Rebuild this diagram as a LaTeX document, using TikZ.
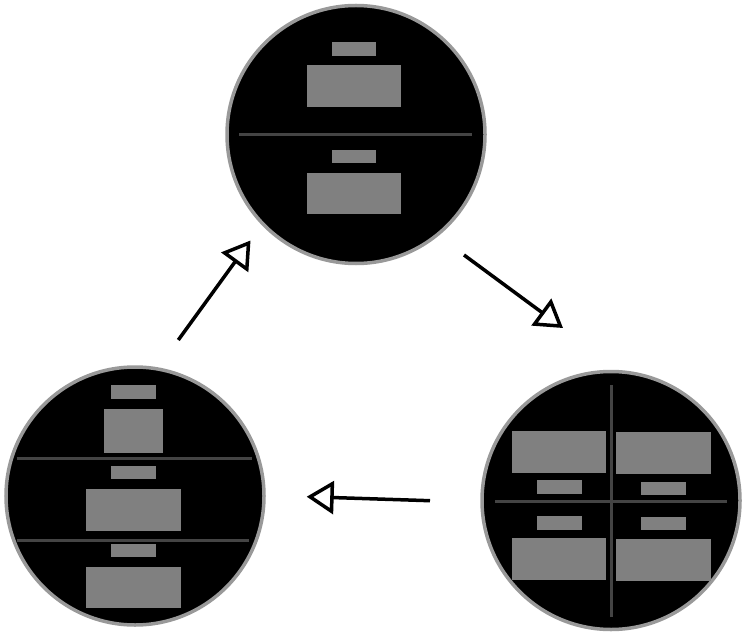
\documentclass[tikz,border=0pt]{standalone}
\usetikzlibrary{arrows.meta}
\definecolor{blockgray}{HTML}{808080}
\definecolor{divgray}{HTML}{444444}
\definecolor{rimgray}{HTML}{999999}
\begin{document}
\begin{tikzpicture}[x=1pt,y=-1pt,
  disc/.style={circle, fill=black, draw=rimgray, line width=3.5pt, minimum size=258pt, inner sep=0pt},
  blk/.style={fill=blockgray},
  divider/.style={draw=divgray, line width=3pt},
  flow/.style={line width=3.5pt, -{Triangle[open, length=27pt, width=33pt, line join=miter]}}]
\useasboundingbox (0,0) rectangle (746,636);
% circles
\node[disc] (top) at (356,134.5) {};
\node[disc] (left) at (135,496) {};
\node[disc] (right) at (611,500.5) {};
% top circle content
\fill[blk] (331.7,42.3) rectangle (376.3,55.7);
\fill[blk] (306.7,65.3) rectangle (401.3,107.3);
\draw[divider] (239.3,135) -- (471.7,135);
\fill[blk] (331.7,150) rectangle (376.3,163.3);
\fill[blk] (306.7,172.7) rectangle (401.3,214.3);
% left circle content
\fill[blk] (111,385) rectangle (155.7,398.7);
\fill[blk] (104,409) rectangle (162.7,452.7);
\draw[divider] (16.7,458.7) -- (251.7,458.7);
\fill[blk] (111,466) rectangle (155.7,479.3);
\fill[blk] (86,489) rectangle (180.7,530.7);
\draw[divider] (16.7,540) -- (249,540);
\fill[blk] (111,543.7) rectangle (155.7,556.7);
\fill[blk] (86,566.7) rectangle (180.7,608.3);
% right circle content
\draw[divider] (611,385.3) -- (611,616.7);
\draw[divider] (495.3,501.3) -- (727,501.3);
\fill[blk] (512,431) rectangle (606.3,473);
\fill[blk] (616.3,432) rectangle (711,474);
\fill[blk] (536.7,480.3) rectangle (581.7,493.7);
\fill[blk] (641.3,481.7) rectangle (686,495);
\fill[blk] (536.7,516) rectangle (581.7,529.7);
\fill[blk] (641.3,517) rectangle (686,530.3);
\fill[blk] (512,538.3) rectangle (606.3,580.3);
\fill[blk] (616.3,539.3) rectangle (711,581.3);
% arrows
\coordinate (a1s) at (178.3,340);
\coordinate (a1e) at (250.5,240.5);
\coordinate (a2s) at (464,255);
\coordinate (a2e) at (563,328);
\coordinate (a3s) at (430,500.7);
\coordinate (a3e) at (306.7,496.7);
\draw[flow] (a1s) -- (a1e);
\draw[flow] (a2s) -- (a2e);
\draw[flow] (a3s) -- (a3e);
\end{tikzpicture}
\end{document}
